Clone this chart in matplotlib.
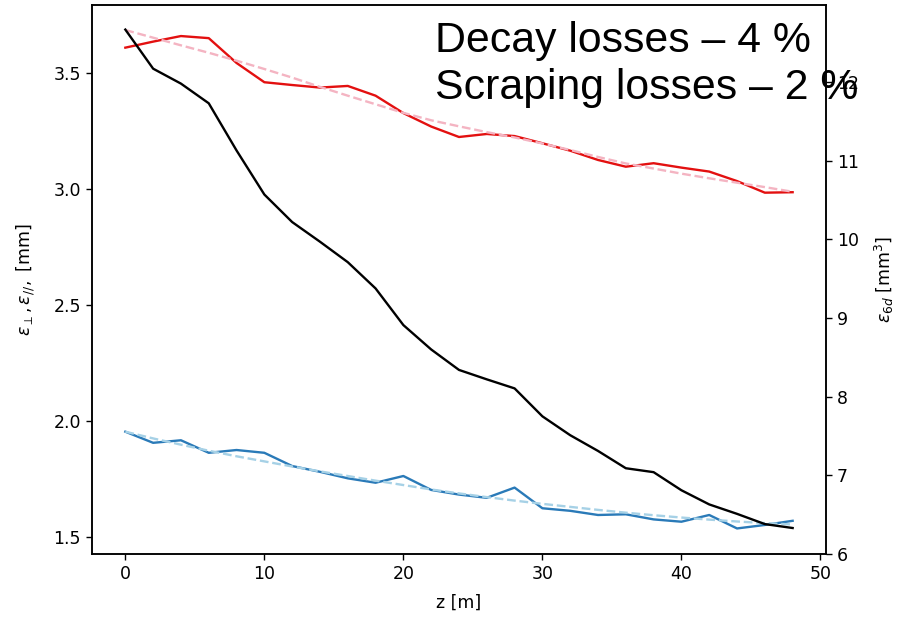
import matplotlib.pyplot as plt

# distance along the channel
z = [0, 2, 4, 6, 8, 10, 12, 14, 16, 18, 20, 22, 24,
     26, 28, 30, 32, 34, 36, 38, 40, 42, 44, 46, 48]

# transverse emittance [mm] and its fit
eps_perp = [3.609, 3.635, 3.659, 3.650, 3.543, 3.460, 3.448, 3.437, 3.444, 3.402, 3.327, 3.269, 3.224,
            3.237, 3.228, 3.197, 3.165, 3.125, 3.096, 3.111, 3.092, 3.075, 3.034, 2.984, 2.986]
eps_perp_fit = [3.685, 3.652, 3.619, 3.587, 3.553, 3.517, 3.480, 3.440, 3.402, 3.365, 3.328, 3.296, 3.270,
                3.245, 3.222, 3.196, 3.168, 3.138, 3.110, 3.088, 3.066, 3.046, 3.027, 3.008, 2.988]

# longitudinal emittance [mm] and its fit
eps_long = [1.954, 1.906, 1.917, 1.863, 1.875, 1.863, 1.806, 1.781, 1.753, 1.734, 1.763, 1.703, 1.683,
            1.669, 1.713, 1.624, 1.613, 1.595, 1.598, 1.576, 1.566, 1.595, 1.537, 1.552, 1.570]
eps_long_fit = [1.954, 1.925, 1.898, 1.872, 1.848, 1.826, 1.804, 1.783, 1.763, 1.743, 1.724, 1.705, 1.688,
                1.672, 1.657, 1.643, 1.630, 1.617, 1.605, 1.594, 1.584, 1.575, 1.567, 1.560, 1.554]

# 6d emittance [mm^3]
eps_6d = [12.667, 12.17, 11.98, 11.73, 11.13, 10.57, 10.22, 9.97, 9.71, 9.376, 8.91, 8.60, 8.34,
          8.22, 8.105, 7.75, 7.51, 7.31, 7.09, 7.04, 6.81, 6.63, 6.51, 6.38, 6.33]

# overlay text (sits on top of the right tick labels, as in the slide)
notes = ["Decay losses \u2013 4 %", "Scraping losses \u2013 2 %"]

plt.rcParams["font.size"] = 12.5

fig = plt.figure(figsize=(8.99, 6.2), dpi=100)
ax = fig.add_axes([0.1023, 0.1065, 0.8165, 0.8855])

ax.plot(z, eps_perp, color="#e31010", lw=1.7)
ax.plot(z, eps_perp_fit, color="#f4b4c2", lw=1.7, ls="--")
ax.plot(z, eps_long, color="#2a7ab8", lw=1.7)
ax.plot(z, eps_long_fit, color="#a6d1e6", lw=1.7, ls="--")
ax.set_xlim(-2.4, 50.4)
ax.set_ylim(1.427, 3.793)
ax.set_yticks([1.5, 2.0, 2.5, 3.0, 3.5])
ax.set_xlabel("z [m]", labelpad=8)
ax.set_ylabel(r"$\varepsilon_{\perp}, \varepsilon_{//},$ [mm]", labelpad=12)

ax2 = ax.twinx()
ax2.plot(z, eps_6d, color="black", lw=1.7)
ax2.set_ylim(6.0, 12.98)
ax2.set_yticks([6, 7, 8, 9, 10, 11, 12])
ax2.set_ylabel(r"$\varepsilon_{6d}$ [mm$^3$]", labelpad=10)

for a in (ax, ax2):
    a.tick_params(length=4.5, width=1.0)
    for s in a.spines.values():
        s.set_linewidth(1.1)

for i, line in enumerate(notes):
    fig.text(0.4839, 0.9166 - i * 0.0768, line, fontsize=30.8,
             family="Liberation Sans", va="baseline", ha="left")

fig.savefig("out.png", dpi=100)
